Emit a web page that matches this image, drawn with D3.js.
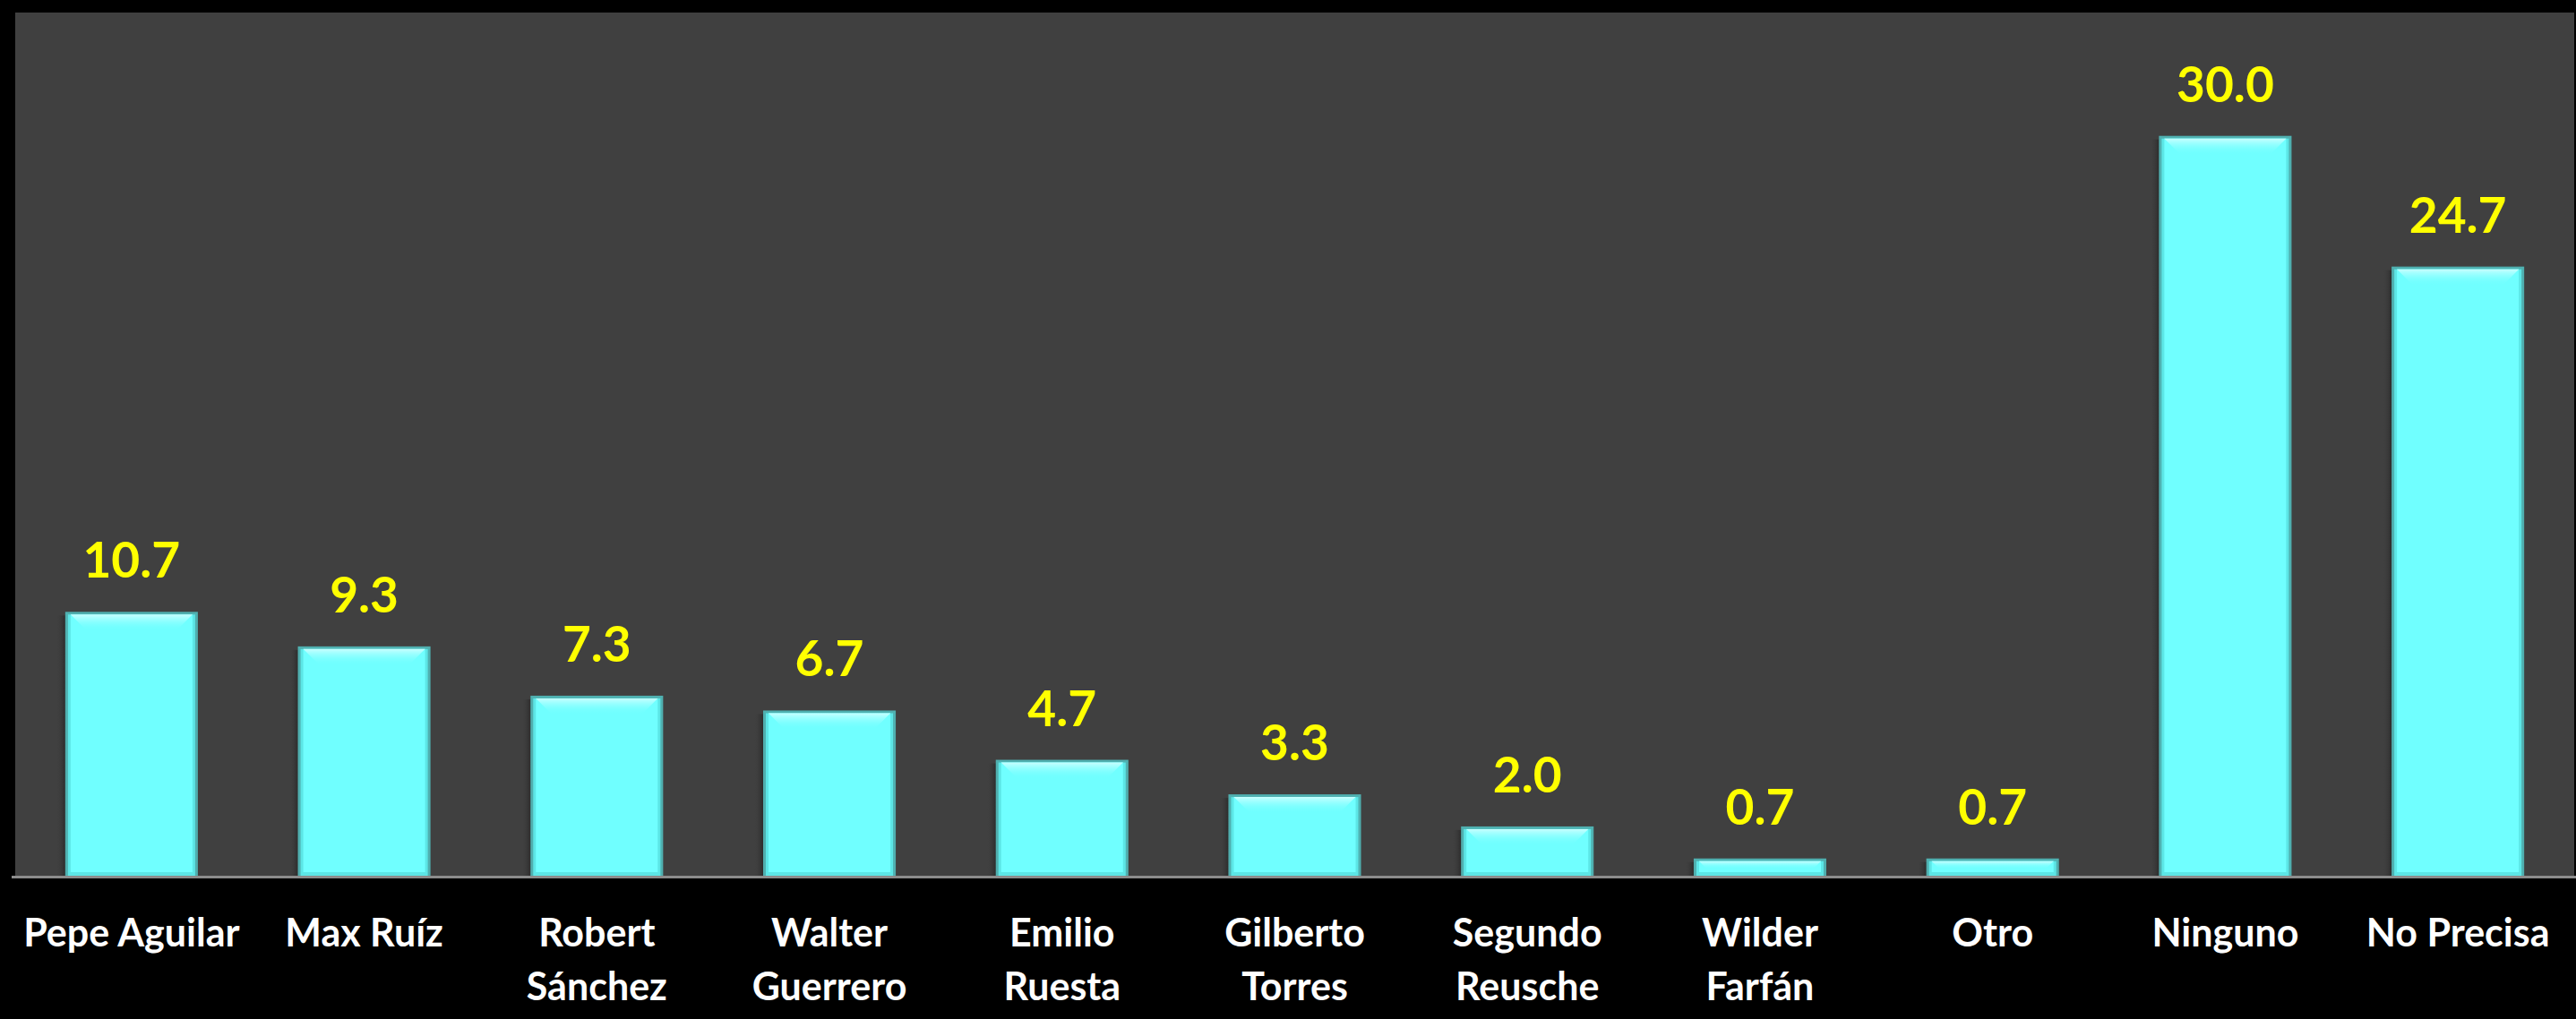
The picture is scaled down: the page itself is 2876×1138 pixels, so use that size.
<!DOCTYPE html>
<html>
<head>
<meta charset="utf-8">
<script src="https://cdn.jsdelivr.net/npm/d3@7"></script>
<style>
  html, body { margin: 0; padding: 0; background: #000; }
  svg { display: block; }
</style>
</head>
<body>
<svg id="chart" width="2876" height="1138"></svg>
<script>
const categories = ["Pepe Aguilar", "Max Ruíz", "Robert Sánchez", "Walter Guerrero", "Emilio Ruesta",
  "Gilberto Torres", "Segundo Reusche", "Wilder Farfán", "Otro", "Ninguno", "No Precisa"];
const labelLines = [["Pepe Aguilar"], ["Max Ruíz"], ["Robert", "Sánchez"], ["Walter", "Guerrero"],
  ["Emilio", "Ruesta"], ["Gilberto", "Torres"], ["Segundo", "Reusche"], ["Wilder", "Farfán"],
  ["Otro"], ["Ninguno"], ["No Precisa"]];
const values = [10.7, 9.3, 7.3, 6.7, 4.7, 3.3, 2.0, 0.7, 0.7, 30.0, 24.7];
const yDomain = [0, 35];

const W = 2876, H = 1138;
const plot = { left: 17, top: 14, right: 2874, bottom: 978 };

const svg = d3.select("#chart");
svg.append("rect").attr("x", 0).attr("y", 0).attr("width", W).attr("height", H).attr("fill", "#000");
svg.append("rect").attr("x", plot.left).attr("y", plot.top)
  .attr("width", plot.right - plot.left).attr("height", plot.bottom - plot.top).attr("fill", "#404040");

const x = d3.scaleBand().domain(categories).range([plot.left, plot.right]).paddingInner(0.43).paddingOuter(0.215);
const y = d3.scaleLinear().domain(yDomain).range([plot.bottom, plot.top]);

const defs = svg.append("defs");
const hl = defs.append("linearGradient").attr("id", "hl").attr("x1", 0).attr("y1", 0).attr("x2", 0).attr("y2", 1);
hl.append("stop").attr("offset", "0%").attr("stop-color", "#c8ffff").attr("stop-opacity", 1);
hl.append("stop").attr("offset", "100%").attr("stop-color", "#70ffff").attr("stop-opacity", 0);
const sh = defs.append("linearGradient").attr("id", "sh").attr("x1", 1).attr("y1", 0).attr("x2", 0).attr("y2", 0);
sh.append("stop").attr("offset", "0%").attr("stop-color", "#2a2a2a").attr("stop-opacity", 0.9);
sh.append("stop").attr("offset", "100%").attr("stop-color", "#404040").attr("stop-opacity", 0);

const data = categories.map((c, i) => ({ c, v: values[i], lines: labelLines[i] }));
const bw = x.bandwidth();

const g = svg.append("g");
const bars = g.selectAll("g.bar").data(data).join("g").attr("class", "bar");

// soft shadow on left
bars.append("rect")
  .attr("x", d => x(d.c) - 10).attr("y", d => y(d.v) + 4)
  .attr("width", 10).attr("height", d => plot.bottom - y(d.v) - 4)
  .attr("fill", "url(#sh)");
// outer border
bars.append("rect")
  .attr("x", d => x(d.c)).attr("y", d => y(d.v))
  .attr("width", bw).attr("height", d => plot.bottom - y(d.v))
  .attr("fill", "#4fb0b0");
// inner edge
bars.append("rect")
  .attr("x", d => x(d.c) + 3).attr("y", d => y(d.v) + 3)
  .attr("width", bw - 6).attr("height", d => Math.max(0, plot.bottom - y(d.v) - 3))
  .attr("fill", "#5ce6e6");
// main fill
bars.append("rect")
  .attr("x", d => x(d.c) + 6).attr("y", d => y(d.v) + 3)
  .attr("width", bw - 12).attr("height", d => Math.max(0, plot.bottom - y(d.v) - 7))
  .attr("fill", "#70ffff");
// top bevel highlight
bars.append("path")
  .attr("d", d => {
    const x0 = x(d.c) + 6, x1 = x(d.c) + bw - 6, t = y(d.v) + 3;
    const hh = Math.min(18, (plot.bottom - y(d.v)) * 0.45);
    return `M${x0},${t}L${x1},${t}L${x1 - hh},${t + hh}L${x0 + hh},${t + hh}Z`;
  })
  .attr("fill", "url(#hl)");

// value labels
g.selectAll("text.val").data(data).join("text").attr("class", "val")
  .attr("x", d => x(d.c) + bw / 2).attr("y", d => y(d.v) - 38)
  .attr("text-anchor", "middle")
  .attr("font-family", "Lato, 'Open Sans', sans-serif").attr("font-weight", "bold")
  .attr("font-size", 55).attr("fill", "#ffff00")
  .text(d => d.v.toFixed(1));

// x axis
const axis = svg.append("g").attr("transform", `translate(0,${plot.bottom})`)
  .call(d3.axisBottom(x).tickSize(0).tickFormat(""));
axis.select(".domain").attr("stroke", "#8c8c8c").attr("stroke-width", 3)
  .attr("d", `M13,1.5H${W}`);

axis.selectAll(".tick text").remove();
axis.selectAll(".tick").each(function(c, i) {
  const t = d3.select(this).append("text")
    .attr("text-anchor", "middle")
    .attr("font-family", "Lato, 'Open Sans', sans-serif").attr("font-weight", "bold")
    .attr("font-size", 43).attr("fill", "#ffffff");
  labelLines[i].forEach((ln, j) => {
    t.append("tspan").attr("x", 0).attr("y", 79 + j * 60).text(ln);
  });
});
</script>
</body>
</html>
